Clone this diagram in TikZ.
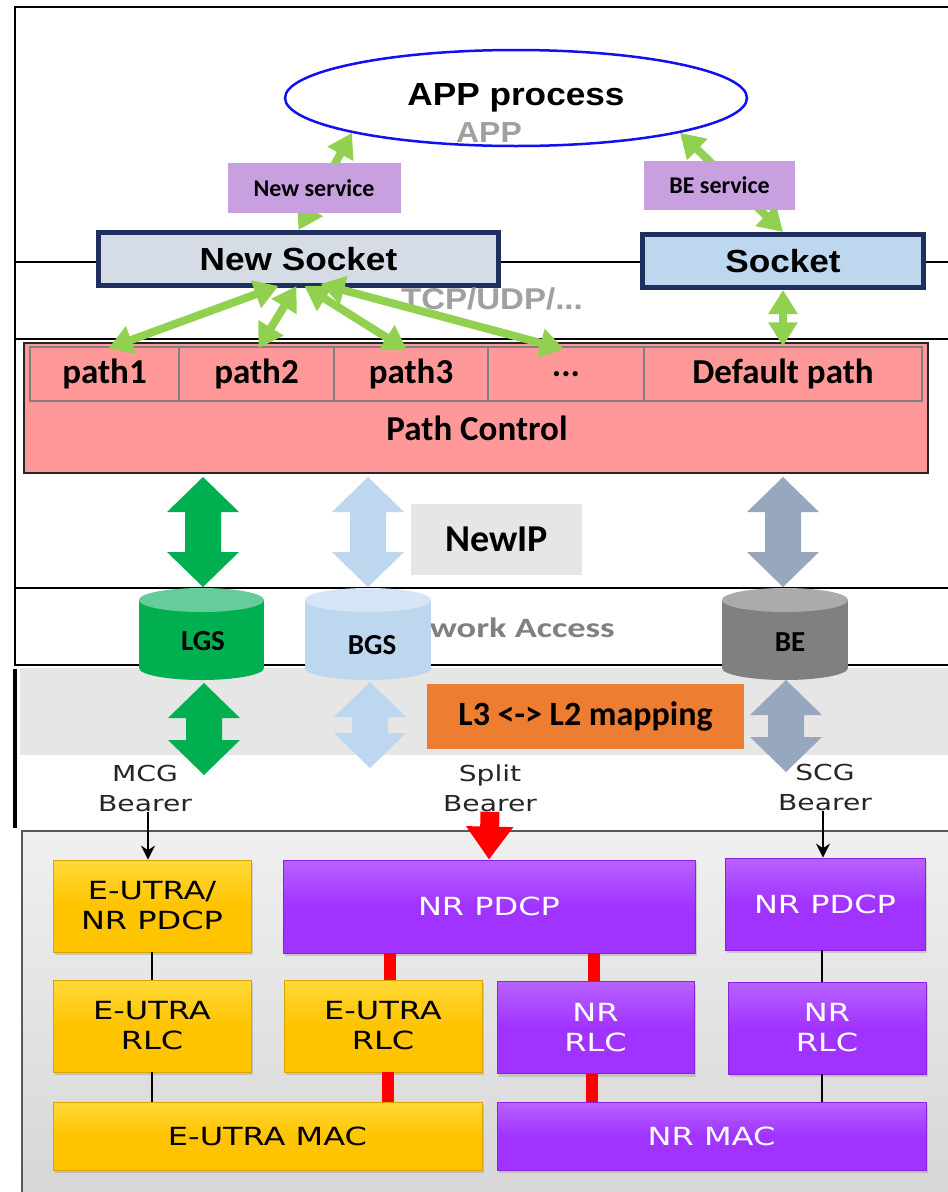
\documentclass[tikz,border=0pt]{standalone}
\usepackage{fontspec}
\setmainfont{Carlito}
\newfontfamily\arialf{Liberation Sans}[FakeStretch=1.1]
\newfontfamily\verdf{DejaVu Sans}[FakeStretch=1.28]
\newfontfamily\calst{Carlito}[FakeStretch=1.3]
\usetikzlibrary{arrows.meta,shadows,shapes.geometric}
\definecolor{appblue}{HTML}{1010F0}
\definecolor{svcpur}{HTML}{C8A0E0}
\definecolor{navy}{HTML}{1F305E}
\definecolor{nsfill}{HTML}{D6DCE5}
\definecolor{sfill}{HTML}{BDD7EE}
\definecolor{lgreen}{HTML}{92D050}
\definecolor{pcpink}{HTML}{FF9999}
\definecolor{greenb}{HTML}{00B050}
\definecolor{greenbtop}{HTML}{66CC99}
\definecolor{lblue}{HTML}{BDD7EE}
\definecolor{lbluetop}{HTML}{D5E5F5}
\definecolor{gblue}{HTML}{97A7BE}
\definecolor{begray}{HTML}{808080}
\definecolor{begraytop}{HTML}{ABABAB}
\definecolor{nipgray}{HTML}{E7E6E6}
\definecolor{orangeb}{HTML}{ED7D31}
\definecolor{yel}{HTML}{FFC400}
\definecolor{yeltop}{HTML}{FFD93A}
\definecolor{yeldraw}{HTML}{D9A400}
\definecolor{pur}{HTML}{A033FF}
\definecolor{purtop}{HTML}{B862FF}
\definecolor{purdraw}{HTML}{8A20E0}
\definecolor{bandgray}{HTML}{E6E6E6}
\definecolor{txtgray}{HTML}{A0A0A0}
\newcommand\fsz[2]{\fontsize{#1}{#2}\selectfont}
\newcommand\dblarrow[4]{%
 \fill[#4] ({#1},{#2}) -- ({#1+36},{#2+35}) -- ({#1+18},{#2+35}) -- ({#1+18},{#3-35}) -- ({#1+36},{#3-35}) -- ({#1},{#3}) -- ({#1-36},{#3-35}) -- ({#1-18},{#3-35}) -- ({#1-18},{#2+35}) -- ({#1-36},{#2+35}) -- cycle;}
\newcommand\cyl[6]{% x1 x2 ytop ybot body top
 \fill[#5] ({#1},{#3}) rectangle ({#2},{#4});
 \fill[#5] ({(#1+#2)/2},{#4}) ellipse ({(#2-#1)/2} and 12);
 \fill[#6] ({(#1+#2)/2},{#3}) ellipse ({(#2-#1)/2} and 12);}
\begin{document}
\begin{tikzpicture}[x=1pt,y=-1pt,
  txt/.style={inner sep=0pt,align=center},
  svc/.style={rectangle,fill=svcpur,inner sep=0pt,font=\bfseries\fsz{24}{28}},
  sock/.style={rectangle,draw=navy,line width=5pt,inner sep=0pt,font=\arialf\bfseries\fsz{32}{36}},
  cell/.style={rectangle,draw=black!50,line width=1.5pt,fill=pcpink,inner sep=0pt,minimum height=54pt,font=\bfseries\fsz{35}{40}},
  garrow/.style={draw=lgreen,line width=8pt,arrows={Triangle[width=28pt,length=24pt]-Triangle[width=28pt,length=24pt]}},
  ybox/.style={rectangle,inner sep=0pt,top color=yeltop,bottom color=yel,middle color=yel,draw=yeldraw,line width=0.8pt,
     drop shadow={opacity=0.3,shadow xshift=2pt,shadow yshift=-3pt},text=black,font=\verdf\fsz{25}{30},align=center},
  pbox/.style={rectangle,inner sep=0pt,top color=purtop,bottom color=pur,middle color=pur,draw=purdraw,line width=0.8pt,
     drop shadow={opacity=0.3,shadow xshift=2pt,shadow yshift=-3pt},text=white,font=\verdf\fsz{25}{30},align=center},
  blk/.style={draw=black,line width=2.5pt},
  redl/.style={draw=red,line width=12pt},
  bearer/.style={txt,text=black!85,font=\verdf\fsz{22}{30}}
]
\useasboundingbox (0,0) rectangle (948,1192);
\fill[white] (0,0) rectangle (948,1192);
% background bands and frames
\fill[bandgray] (20,668) rectangle (948,755);
\draw[draw=black!65,line width=1.5pt,top color=black!6,bottom color=black!16] (22,831) rectangle (952,1196);
\draw[line width=2pt] (948,7) -- (15,7) -- (15,665) -- (948,665);
\draw[line width=2pt] (15,262) -- (948,262);
\draw[line width=2pt] (15,339) -- (948,339);
\draw[line width=2pt] (15,588) -- (948,588);
\draw[line width=4.5pt] (15,669) -- (15,828);

% top: app
\node[txt,text=txtgray,font=\arialf\bfseries\fsz{29}{32}] (apptxt) at (489,133) {APP};
\node[ellipse,draw=appblue,line width=2.5pt,minimum width=462pt,minimum height=96pt,inner sep=0pt,
      font=\arialf\bfseries\fsz{32}{36}] (app) at (516,98) {APP process};
\node[sock,fill=nsfill,minimum width=400pt,minimum height=53pt] (ns) at (298.5,259) {New Socket};
\node[sock,fill=sfill,minimum width=281pt,minimum height=53pt] (s) at (783,261) {Socket};
\node[txt,text=txtgray,font=\arialf\bfseries\fsz{30}{34}] (tcp) at (492,299) {TCP/UDP/...};

% service arrows (behind the service boxes)
\draw[garrow] (ns.north) -- (app.192);
\draw[garrow] (s.north) -- (app.348);
\node[svc,minimum width=173pt,minimum height=50pt] (nsvc) at (314,188) {New service};
\node[svc,minimum width=151pt,minimum height=49pt] (bsvc) at (719.5,185.5) {BE service};

% path control
\node[rectangle,draw=black!85,line width=2pt,fill=pcpink,minimum width=904pt,minimum height=130pt,inner sep=0pt] (pc) at (476,408) {};
\node[txt,font=\bfseries\fsz{35}{40}] (pctxt) at (477,428) {Path Control};
\node[cell,minimum width=149pt] (p1) at (104.5,374) {path1};
\node[cell,minimum width=155pt] (p2) at (256.5,374) {path2};
\node[cell,minimum width=154pt] (p3) at (411,374) {path3};
\node[cell,minimum width=156pt] (p4) at (566,374) {...};
\node[cell,minimum width=278pt] (p5) at (783,374) {Default path};

% green arrows to paths
\draw[garrow] ([xshift=-20pt,yshift=2pt]ns.south) -- ([xshift=4pt,yshift=-2pt]p1.north);
\draw[garrow] ([xshift=-2pt,yshift=2pt]ns.south) -- ([xshift=2pt,yshift=-2pt]p2.north);
\draw[garrow] ([xshift=6pt,yshift=2pt]ns.south) -- ([xshift=-4pt,yshift=-4pt]p3.north);
\draw[garrow] ([xshift=22pt,yshift=4pt]ns.south) -- ([xshift=-2pt,yshift=-3pt]p4.north);
\draw[garrow] (s.south) -- (p5.north);

% NewIP
\node[rectangle,fill=nipgray,minimum width=171pt,minimum height=71pt,inner sep=0pt,font=\bfseries\fsz{38}{42}] (nip) at (496.5,539.5) {NewIP};
\dblarrow{203}{477}{587}{greenb}
\dblarrow{368}{477}{587}{lblue}
\dblarrow{783}{477}{587}{gblue}

% network access and cylinders
\node[txt,text=black!50,font=\calst\bfseries\fsz{28}{32}] (na) at (495,628) {Network Access};
\cyl{139}{264}{600}{668}{greenb}{greenbtop}
\cyl{305}{431}{600}{668}{lblue}{lbluetop}
\cyl{722}{848}{600}{668}{begray}{begraytop}
\node[txt,font=\bfseries\fsz{29}{32}] (lgs) at (203,641) {LGS};
\node[txt,font=\bfseries\fsz{29}{32}] (bgs) at (372,645) {BGS};
\node[txt,font=\bfseries\fsz{29}{32}] (be) at (790,642) {BE};

% mapping
\dblarrow{204}{683}{775}{greenb}
\dblarrow{370}{682}{768}{lblue}
\dblarrow{786}{680}{772}{gblue}
\node[rectangle,fill=orangeb,minimum width=317pt,minimum height=65pt,inner sep=0pt,font=\bfseries\fsz{34}{38}] (map) at (585.5,716.5) {L3 <-> L2 mapping};

% bearers
\node[bearer] (mcg) at (145,788) {MCG\\Bearer};
\node[bearer] (split) at (490,788) {Split\\Bearer};
\node[bearer] (scg) at (825,787) {SCG\\Bearer};

% L2 boxes
\node[ybox,minimum width=198pt,minimum height=92pt] (b1) at (152,906) {E-UTRA/\\NR PDCP};
\node[pbox,minimum width=412pt,minimum height=93pt] (b2) at (489,906.5) {NR PDCP};
\node[pbox,minimum width=200pt,minimum height=92pt] (b3) at (825,904) {NR PDCP};
\node[ybox,minimum width=198pt,minimum height=92pt] (b4) at (152,1026) {E-UTRA\\RLC};
\node[ybox,minimum width=198pt,minimum height=92pt] (b5) at (383,1026) {E-UTRA\\RLC};
\node[pbox,minimum width=197pt,minimum height=92pt] (b6) at (595.5,1027.5) {NR\\RLC};
\node[pbox,minimum width=198pt,minimum height=92pt] (b7) at (827,1028) {NR\\RLC};
\node[ybox,minimum width=429pt,minimum height=68pt] (b8) at (267.5,1136) {E-UTRA MAC};
\node[pbox,minimum width=429pt,minimum height=68pt] (b9) at (711.5,1136) {NR MAC};

% bearer arrows
\draw[draw=black,line width=2pt,-{Stealth[width=14pt,length=14pt]}] ([xshift=-4pt]b1.north |- mcg.south) -- ([xshift=-4pt]b1.north);
\draw[draw=black,line width=2pt,-{Stealth[width=14pt,length=14pt]}] ([xshift=-2pt]b3.north |- scg.south) -- ([xshift=-2pt]b3.north);
\draw[draw=red,line width=19pt,-{Triangle[width=45pt,length=33pt]}] (split.south) -- (b2.north);

% L2 connectors
\draw[blk] (b1.south) -- (b4.north);
\draw[blk] (b4.south) -- (b4.south |- b8.north);
\draw[redl] ([xshift=7pt]b5.north |- b2.south) -- ([xshift=7pt]b5.north);
\draw[redl] ([xshift=-2pt]b6.north |- b2.south) -- ([xshift=-2pt]b6.north);
\draw[redl] ([xshift=5pt]b5.south) -- ([xshift=5pt]b5.south |- b8.north);
\draw[redl] ([xshift=-4pt]b6.south) -- ([xshift=-4pt]b6.south |- b9.north);
\draw[blk] ([xshift=-5pt]b7.north |- b3.south) -- ([xshift=-5pt]b7.north);
\draw[blk] ([xshift=-5pt]b7.south) -- ([xshift=-5pt]b7.south |- b9.north);
\end{tikzpicture}
\end{document}
